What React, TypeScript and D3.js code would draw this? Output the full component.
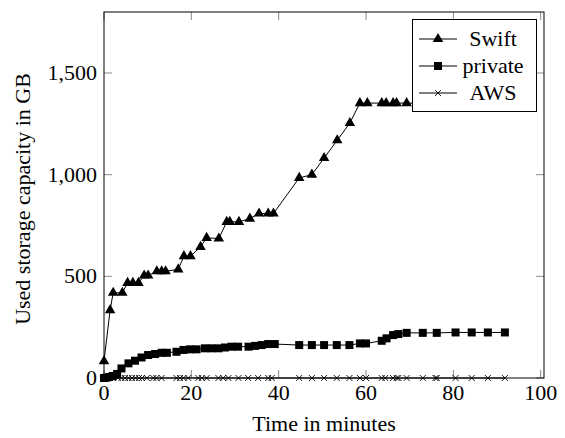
import React from 'react';
import * as d3 from 'd3';

// Swift (triangles)
const swiftX = [0, 1.4, 2.1, 4.2, 5.4, 6.6, 7.9, 9.2, 10.1, 12.1, 13.2, 14.1, 17, 18.3, 19.8, 22.1, 23.5, 26.3, 28.1, 28.8, 30.9, 33.4, 35.5, 37.6, 38.8, 44.7, 47.6, 50.4, 53.4, 56.3, 58.6, 60.3, 63.6, 64.6, 66.2, 67, 69.3, 72];
const swiftY = [83, 334, 419, 419, 468, 468, 468, 504, 504, 525, 525, 525, 534, 599, 599, 645, 689, 686, 768, 768, 768, 784, 809, 809, 809, 984, 1000, 1082, 1169, 1254, 1352, 1352, 1352, 1352, 1352, 1352, 1352, 1352];

// private (squares)
const privX = [0, 0.6, 1.2, 2, 3, 4, 5.6, 7.1, 8.6, 10.1, 11.7, 13.2, 14.4, 16.6, 18.2, 19.7, 21.2, 23.1, 24.6, 26.2, 27.7, 29.2, 30.7, 33.1, 34.6, 36.1, 37.6, 39.1, 44.7, 47.6, 50.4, 53.3, 56.2, 58.6, 60, 63.6, 64.7, 66.2, 67.4, 69.3, 73, 76.2, 80.5, 84.2, 87.9, 91.8];
const privY = [0, 2, 5, 10, 20, 47, 72, 85, 101, 113, 118, 124, 124, 129, 138, 141, 141, 146, 146, 146, 150, 154, 154, 154, 158, 162, 167, 167, 162, 162, 162, 162, 162, 170, 170, 183, 195, 211, 216, 222, 222, 222, 224, 224, 224, 224];

// AWS (crosses)
const awsX = [0, 1, 2, 3.2, 4, 4.8, 5.6, 6.4, 7.2, 8, 8.7, 9.8, 11.3, 12, 13.2, 16.6, 17.4, 18.2, 19.3, 21.6, 22.4, 23.5, 26.2, 27.3, 28.5, 30.8, 33, 35.3, 37.6, 38.4, 44.7, 47.6, 50.4, 53.3, 56.2, 58.6, 60, 63.6, 64.4, 66.2, 67, 67.4, 69.3, 73, 75.9, 76.2, 80.5, 84.2, 87.9, 91.8];
const awsY = awsX.map(() => 0);

const xTicks = [0, 20, 40, 60, 80, 100];
const yTicks = [0, 500, 1000, 1500];
const seriesNames = ['Swift', 'private', 'AWS'];

const W = 565, H = 438;
const left = 104, right = 544, top = 12, bottom = 378;
const font = '"Liberation Serif", "DejaVu Serif", serif';
const fs = 22;

function Marker({kind, x, y}: {kind: string, x: number, y: number}) {
    if (kind === 'tri') {
        return <path d={d3.symbol(d3.symbolTriangle, 48)() as string} transform={`translate(${x},${y})`} fill="black" />;
    }
    if (kind === 'sq') {
        return <rect x={x - 4} y={y - 4} width={8} height={8} fill="black" />;
    }
    return <path d={`M${x - 3},${y - 3}L${x + 3},${y + 3}M${x - 3},${y + 3}L${x + 3},${y - 3}`} stroke="black" strokeWidth={0.9} />;
}

export default function App() {
    const x = d3.scaleLinear().domain([0, 100]).range([left, 540.7]);
    const y = d3.scaleLinear().domain([0, 1800]).range([bottom, top]);

    const series = [
        {xs: swiftX, ys: swiftY, kind: 'tri'},
        {xs: privX, ys: privY, kind: 'sq'},
        {xs: awsX, ys: awsY, kind: 'x'},
    ];

    const line = d3.line<[number, number]>().x(d => x(d[0])).y(d => y(d[1]));

    return (
        <svg width={W} height={H} style={{position: 'absolute', left: 0, top: 0}} fontFamily={font}>
            <rect x={0} y={0} width={W} height={H} fill="white" />
            {/* ticks, inside on all sides */}
            {xTicks.map(t => (
                <g key={'xt' + t} stroke="#888" strokeWidth={1}>
                    <line x1={x(t)} x2={x(t)} y1={bottom} y2={bottom - 8} />
                    <line x1={x(t)} x2={x(t)} y1={top} y2={top + 8} />
                </g>
            ))}
            {yTicks.map(t => (
                <g key={'yt' + t} stroke="#888" strokeWidth={1}>
                    <line x1={left} x2={left + 8} y1={y(t)} y2={y(t)} />
                    <line x1={right} x2={right - 8} y1={y(t)} y2={y(t)} />
                </g>
            ))}

            {series.map((s, i) => {
                const pts = s.xs.map((v, j) => [v, s.ys[j]] as [number, number]);
                return (
                    <g key={i}>
                        <path d={line(pts) as string} fill="none" stroke="black" strokeWidth={1} />
                        {pts.map((p, j) => <Marker key={j} kind={s.kind} x={x(p[0])} y={y(p[1])} />)}
                    </g>
                );
            })}

            <rect x={left} y={top} width={right - left} height={bottom - top} fill="none" stroke="black" strokeWidth={1} />

            {xTicks.map(t => (
                <text key={'xl' + t} x={x(t)} y={400} textAnchor="middle" fontSize={fs}>{t}</text>
            ))}
            {yTicks.map(t => (
                <text key={'yl' + t} x={97} y={y(t) + 7} textAnchor="end" fontSize={fs}>{d3.format(',')(t)}</text>
            ))}
            <text x={(left + right) / 2} y={431} textAnchor="middle" fontSize={fs}>Time in minutes</text>
            <text transform={`translate(30,${(top + bottom) / 2 + 4}) rotate(-90)`} textAnchor="middle" fontSize={fs}>Used storage capacity in GB</text>

            {/* legend */}
            <rect x={412.5} y={19.5} width={124} height={92} fill="white" stroke="black" strokeWidth={1} />
            {seriesNames.map((name, i) => {
                const cy = 39 + i * 27;
                return (
                    <g key={name}>
                        <line x1={419} x2={457} y1={cy} y2={cy} stroke="black" strokeWidth={1} />
                        <Marker kind={series[i].kind} x={438} y={cy} />
                        <text x={493} y={cy + 7} textAnchor="middle" fontSize={fs}>{name}</text>
                    </g>
                );
            })}
        </svg>
    );
}
